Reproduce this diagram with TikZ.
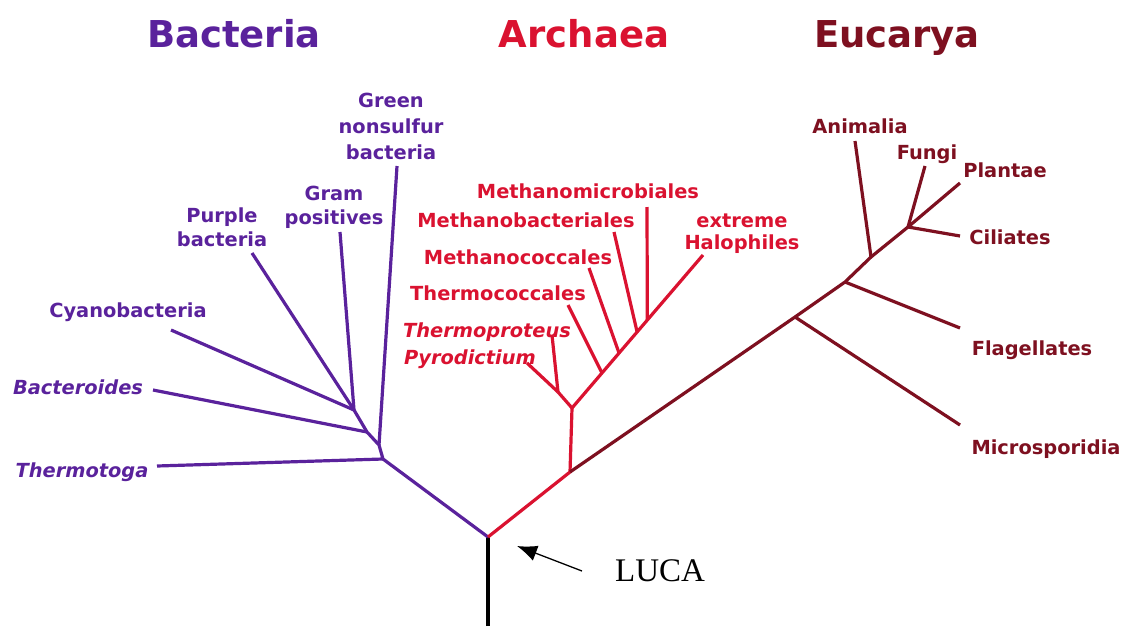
\documentclass[tikz,border=0pt]{standalone}
\usepackage{fontspec}
\setmainfont{DejaVu Sans}
\newfontfamily\lucafont{Liberation Serif}
\usetikzlibrary{arrows.meta,calc}
\definecolor{bac}{RGB}{90,34,156}
\definecolor{arc}{RGB}{218,18,48}
\definecolor{euk}{RGB}{126,16,32}
\begin{document}
\begin{tikzpicture}[x=1pt,y=-1pt,
  branch/.style={line width=3.2pt,line join=round},
  lab/.style={inner sep=0pt,font=\fontsize{19.4}{24}\selectfont\bfseries,align=center,text height=14pt,text depth=0pt},
  titlelab/.style={inner sep=0pt,anchor=base,font=\fontsize{37}{40}\selectfont\bfseries}]
\useasboundingbox (0,0) rectangle (1123,626);
% titles
\node[titlelab,bac] (tb) at (234,48) {Bacteria};
\node[titlelab,arc] (ta) at (584,48) {Archaea};
\node[titlelab,euk] (te) at (897,48) {Eucarya};
% root
\coordinate (luca) at (488,537);
\coordinate (bottom) at (488,626);
\draw[branch,black] (bottom) -- (luca);
% bacteria
\coordinate (b1) at (383,459);
\coordinate (b2) at (379,445);
\coordinate (b3) at (367,432);
\coordinate (b4) at (354,410);
\coordinate (tThermotoga) at (157,466);
\coordinate (tGreen) at (397,166);
\coordinate (tBacteroides) at (153,390);
\coordinate (tCyano) at (171,330);
\coordinate (tPurple) at (252,253);
\coordinate (tGram) at (340,232);
\draw[branch,bac] (luca) -- (b1) -- (b2) -- (b3) -- (b4);
\draw[branch,bac] (b1) -- (tThermotoga);
\draw[branch,bac] (b2) -- (tGreen);
\draw[branch,bac] (b3) -- (tBacteroides);
\draw[branch,bac] (b4) -- (tCyano);
\draw[branch,bac] (b4) -- (tPurple);
\draw[branch,bac] (b4) -- (tGram);
\node[lab,bac,font=\fontsize{19.4}{26}\selectfont\bfseries] (lGreen) at (391,152) {Green\\nonsulfur\\bacteria};
\node[lab,bac] (lGram) at (334,217) {Gram\\positives};
\node[lab,bac] (lPurple) at (222,239) {Purple\\bacteria};
\node[lab,bac] (lCyano) at (128,310) {Cyanobacteria};
\node[lab,bac] (lBacteroides) at (78,387) {\itshape Bacteroides};
\node[lab,bac] (lThermotoga) at (82,470) {\itshape Thermotoga};
% archaea
\coordinate (a0) at (570,472);
\coordinate (a1) at (572,408);
\coordinate (a2) at (558,392);
\coordinate (tPyro) at (527,363);
\coordinate (tTprot) at (552,335);
\coordinate (tHalo) at (703,255);
\coordinate (j1) at ($(a1)!0.229!(tHalo)$);
\coordinate (j2) at ($(a1)!0.359!(tHalo)$);
\coordinate (j3) at ($(a1)!0.497!(tHalo)$);
\coordinate (j4) at ($(a1)!0.575!(tHalo)$);
\coordinate (tTcoc) at (568,305);
\coordinate (tMcoc) at (589,268);
\coordinate (tMbac) at (614,232);
\coordinate (tMmic) at (647,207);
\draw[branch,arc] (luca) -- (a0) -- (a1);
\draw[branch,arc] (a1) -- (a2);
\draw[branch,arc] (a2) -- (tPyro);
\draw[branch,arc] (a2) -- (tTprot);
\draw[branch,arc] (a1) -- (tHalo);
\draw[branch,arc] (j1) -- (tTcoc);
\draw[branch,arc] (j2) -- (tMcoc);
\draw[branch,arc] (j3) -- (tMbac);
\draw[branch,arc] (j4) -- (tMmic);
\node[lab,arc] (lMmic) at (588,191) {Methanomicrobiales};
\node[lab,arc] (lMbac) at (526,220) {Methanobacteriales};
\node[lab,arc] (lMcoc) at (518,257) {Methanococcales};
\node[lab,arc] (lTcoc) at (498,293) {Thermococcales};
\node[lab,arc] (lTprot) at (487,330) {\itshape Thermoproteus};
\node[lab,arc] (lPyro) at (470,357) {\itshape Pyrodictium};
\node[lab,arc,font=\fontsize{19.4}{22}\selectfont\bfseries] (lHalo) at (742,242) {extreme\\Halophiles};
% eucarya
\coordinate (e1) at (795,317);
\coordinate (e2) at (845,282);
\coordinate (e3) at (871,257);
\coordinate (e4) at (908,227);
\coordinate (tMicro) at (960,425);
\coordinate (tFlag) at (960,328);
\coordinate (tAnim) at (855,141);
\coordinate (tFungi) at (925,166);
\coordinate (tPlant) at (960,183);
\coordinate (tCil) at (960,236);
\draw[branch,euk] (a0) -- (e1) -- (e2) -- (e3) -- (e4);
\draw[branch,euk] (e1) -- (tMicro);
\draw[branch,euk] (e2) -- (tFlag);
\draw[branch,euk] (e3) -- (tAnim);
\draw[branch,euk] (e4) -- (tFungi);
\draw[branch,euk] (e4) -- (tPlant);
\draw[branch,euk] (e4) -- (tCil);
\node[lab,euk] (lAnim) at (860,126) {Animalia};
\node[lab,euk] (lFungi) at (927,152) {Fungi};
\node[lab,euk] (lPlant) at (1005,170) {Plantae};
\node[lab,euk] (lCil) at (1010,237) {Ciliates};
\node[lab,euk] (lFlag) at (1032,348) {Flagellates};
\node[lab,euk] (lMicro) at (1046,447) {Microsporidia};
% LUCA
\node[inner sep=0pt,font=\lucafont\fontsize{33}{36}\selectfont] (lLuca) at (660,571) {LUCA};
\coordinate (arrowtail) at (582,571);
\coordinate (arrowtip) at (517,546);
\draw[line width=1.3pt,-{Latex[length=20pt,width=16pt]}] (arrowtail) -- (arrowtip);
\end{tikzpicture}
\end{document}
